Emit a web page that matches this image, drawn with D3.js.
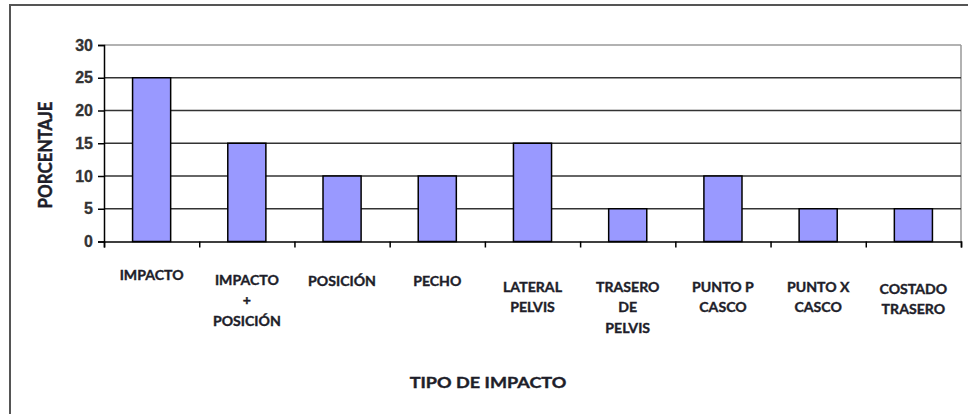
<!DOCTYPE html>
<html>
<head>
<meta charset="utf-8">
<script src="https://cdn.jsdelivr.net/npm/d3@7"></script>
<style>
  html, body { margin: 0; padding: 0; background: #fff; }
  svg { display: block; }
</style>
</head>
<body>
<svg id="chart" width="968" height="414"></svg>
<script>
// Impact types (each label split into its printed lines) and their percentages
const categories = [
  ["IMPACTO"],
  ["IMPACTO", "+", "POSICIÓN"],
  ["POSICIÓN"],
  ["PECHO"],
  ["LATERAL", "PELVIS"],
  ["TRASERO", "DE", "PELVIS"],
  ["PUNTO P", "CASCO"],
  ["PUNTO X", "CASCO"],
  ["COSTADO", "TRASERO"]
];
const values = [25, 15, 10, 10, 15, 5, 10, 5, 5];
const yTicks = [0, 5, 10, 15, 20, 25, 30];
const yTitle = "PORCENTAJE";
const xTitle = "TIPO DE IMPACTO";

// Layout
const W = 968, H = 414;
const plot = { left: 104, right: 961, top: 45, bottom: 241.5 };
// vertical nudge of each category label block below the axis
const labelDrop = [38, 43, 44, 44, 50, 50, 50, 50, 52];
const lineGap = 21;
const textStretch = 1.13;
const textColor = "#1e1e2a";

const svg = d3.select("#chart");

// outer frame (left and top edges)
svg.append("path")
  .attr("d", `M10,${H} L10,5 L${W},5`)
  .attr("fill", "none")
  .attr("stroke", "#555")
  .attr("stroke-width", 2);

const x = d3.scaleBand()
  .domain(d3.range(categories.length))
  .range([plot.left, plot.right])
  .paddingInner(0.6)
  .paddingOuter(0.3);

const xEdges = d3.scaleLinear()
  .domain([0, categories.length])
  .range([plot.left, plot.right]);

const y = d3.scaleLinear()
  .domain([0, 30])
  .range([plot.bottom, plot.top]);

// right edge of plot area
svg.append("line")
  .attr("x1", plot.right).attr("x2", plot.right)
  .attr("y1", plot.top).attr("y2", plot.bottom)
  .attr("stroke", "#999").attr("stroke-width", 1.5);

// horizontal gridlines
svg.append("g")
  .selectAll("line")
  .data(yTicks.filter(t => t > 0))
  .join("line")
  .attr("x1", plot.left).attr("x2", plot.right)
  .attr("y1", d => y(d)).attr("y2", d => y(d))
  .attr("stroke", d => d === 30 ? "#999" : "#333")
  .attr("stroke-width", d => d === 30 ? 1.5 : 1.6);

// bars
svg.append("g")
  .selectAll("rect")
  .data(values)
  .join("rect")
  .attr("x", (d, i) => x(i))
  .attr("width", x.bandwidth())
  .attr("y", d => y(d))
  .attr("height", d => y(0) - y(d))
  .attr("fill", "#9999ff")
  .attr("stroke", "#000")
  .attr("stroke-width", 1.5);

// y axis
const yAxis = d3.axisLeft(y)
  .tickValues(yTicks)
  .tickSize(6)
  .tickPadding(5)
  .tickFormat(d3.format("d"));
const gy = svg.append("g")
  .attr("transform", `translate(${plot.left},0)`)
  .call(yAxis);
gy.select(".domain").attr("stroke", "#000").attr("stroke-width", 1.5);
gy.selectAll(".tick line").attr("stroke", "#000").attr("stroke-width", 1.5);
gy.selectAll(".tick text")
  .attr("fill", "#333")
  .attr("stroke", "#333")
  .attr("stroke-width", 0.3)
  .style("font-family", "'Liberation Sans', Arial, sans-serif")
  .style("font-size", "16px")
  .style("font-weight", "bold");

// x axis with ticks at category boundaries
const xAxis = d3.axisBottom(xEdges)
  .tickValues(d3.range(categories.length + 1))
  .tickSize(6)
  .tickFormat("");
const gx = svg.append("g")
  .attr("transform", `translate(0,${plot.bottom})`)
  .call(xAxis);
gx.select(".domain").attr("stroke", "#000").attr("stroke-width", 1.5);
gx.selectAll(".tick line").attr("stroke", "#000").attr("stroke-width", 1.5);

// category labels
const labels = svg.append("g")
  .selectAll("g")
  .data(categories)
  .join("g")
  .attr("transform", (d, i) =>
    `translate(${x(i) + x.bandwidth() / 2},${plot.bottom + labelDrop[i]}) scale(${textStretch},1)`);
labels.selectAll("text")
  .data(d => d)
  .join("text")
  .attr("y", (d, j) => j * lineGap)
  .attr("text-anchor", "middle")
  .attr("fill", textColor)
  .attr("stroke", textColor)
  .attr("stroke-width", 0.35)
  .style("font-family", "Lato, 'Open Sans', sans-serif")
  .style("font-size", "12.5px")
  .style("font-weight", "bold")
  .text(d => d);

// axis titles
svg.append("text")
  .attr("transform", `translate(488,388) scale(${textStretch},1)`)
  .attr("text-anchor", "middle")
  .attr("fill", textColor)
  .attr("stroke", textColor)
  .attr("stroke-width", 0.4)
  .style("font-family", "Lato, 'Open Sans', sans-serif")
  .style("font-size", "16px")
  .style("font-weight", "bold")
  .text(xTitle);

svg.append("text")
  .attr("transform", `translate(52,155) rotate(-90) scale(1,${textStretch})`)
  .attr("text-anchor", "middle")
  .attr("fill", textColor)
  .attr("stroke", textColor)
  .attr("stroke-width", 0.4)
  .style("font-family", "Lato, 'Open Sans', sans-serif")
  .style("font-size", "17px")
  .style("font-weight", "bold")
  .text(yTitle);
</script>
</body>
</html>
